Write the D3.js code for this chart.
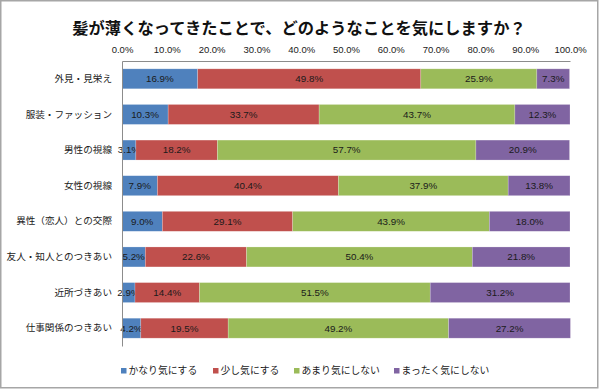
<!DOCTYPE html>
<html>
<head>
<meta charset="utf-8">
<script src="https://cdn.jsdelivr.net/npm/d3@7"></script>
<style>
  html, body { margin: 0; padding: 0; background: #fff; }
  svg { display: block; }
</style>
</head>
<body>
<div id="chart"></div>
<script>
// categories, top to bottom
const categories = [
  '外見・見栄え',
  '服装・ファッション',
  '男性の視線',
  '女性の視線',
  '異性（恋人）との交際',
  '友人・知人とのつきあい',
  '近所づきあい',
  '仕事関係のつきあい'
];
const seriesNames = ['かなり気にする', '少し気にする', 'あまり気にしない', 'まったく気にしない'];
const kanari   = [16.9, 10.3, 3.1, 7.9, 9.0, 5.2, 2.9, 4.2];
const sukoshi  = [49.8, 33.7, 18.2, 40.4, 29.1, 22.6, 14.4, 19.5];
const amari    = [25.9, 43.7, 57.7, 37.9, 43.9, 50.4, 51.5, 49.2];
const mattaku  = [7.3, 12.3, 20.9, 13.8, 18.0, 21.8, 31.2, 27.2];
const xTicks = [0, 10, 20, 30, 40, 50, 60, 70, 80, 90, 100];

const colors = ['#4f81bd', '#c0504d', '#9bbb59', '#8064a2'];
const title = '髪が薄くなってきたことで、どのようなことを気にしますか？';

const W = 600, H = 390;
const margin = { top: 61, left: 122, right: 30, bottom: 44 };
const jp = '"Noto Sans CJK JP", "Noto Sans", sans-serif';
const num = '"Liberation Sans", Arial, sans-serif';

const table = categories.map((c, i) => ({
  cat: c,
  [seriesNames[0]]: kanari[i],
  [seriesNames[1]]: sukoshi[i],
  [seriesNames[2]]: amari[i],
  [seriesNames[3]]: mattaku[i]
}));

const stack = d3.stack().keys(seriesNames)(table);

const svg = d3.select('#chart').append('svg')
  .attr('width', W)
  .attr('height', H);

// outer frame
svg.append('rect')
  .attr('x', 0.75).attr('y', 0.75)
  .attr('width', W - 3).attr('height', H - 3)
  .attr('fill', '#fff')
  .attr('stroke', '#a6a6a6')
  .attr('stroke-width', 1.5);

svg.append('text')
  .attr('x', 299)
  .attr('y', 34)
  .attr('text-anchor', 'middle')
  .style('font-family', jp)
  .style('font-size', '16.3px')
  .style('font-weight', 700)
  .style('fill', '#111')
  .text(title);

const x = d3.scaleLinear()
  .domain([0, 100])
  .range([margin.left, W - margin.right]);

const y = d3.scaleBand()
  .domain(categories)
  .range([margin.top, H - margin.bottom])
  .paddingInner(0.44)
  .paddingOuter(0.22);

const bars = svg.append('g').classed('bars', true);

bars.selectAll('.series')
  .data(stack)
  .enter()
  .append('g')
  .classed('series', true)
  .attr('fill', (d, i) => colors[i])
  .selectAll('rect')
  .data(d => d)
  .enter()
  .append('rect')
  .attr('x', d => x(d[0]))
  .attr('y', d => y(d.data.cat))
  .attr('width', d => x(d[1]) - x(d[0]))
  .attr('height', y.bandwidth())
  .attr('stroke', '#ffffff')
  .attr('stroke-opacity', 0.35)
  .attr('stroke-width', 0.6);

// value labels
bars.selectAll('.series')
  .selectAll('text')
  .data(d => d)
  .enter()
  .append('text')
  .attr('x', d => (x(d[0]) + x(d[1])) / 2)
  .attr('y', d => y(d.data.cat) + y.bandwidth() / 2)
  .attr('dy', '0.35em')
  .attr('text-anchor', 'middle')
  .style('font-family', num)
  .style('font-size', '9.8px')
  .style('fill', '#1a1a1a')
  .text(d => (d[1] - d[0]).toFixed(1) + '%');

// top axis
const xAxis = d3.axisTop(x)
  .tickValues(xTicks)
  .tickSize(0)
  .tickPadding(8)
  .tickFormat(d => d.toFixed(1) + '%');

const gx = svg.append('g')
  .classed('x axis', true)
  .attr('transform', `translate(0,${margin.top})`)
  .call(xAxis);
gx.select('.domain').attr('stroke', '#8c8c8c');
gx.selectAll('text')
  .style('font-family', num)
  .style('font-size', '9.5px')
  .style('fill', '#1a1a1a');

// left axis
const yAxis = d3.axisLeft(y)
  .tickSize(0)
  .tickSizeOuter(0)
  .tickPadding(10);

const gy = svg.append('g')
  .classed('y axis', true)
  .attr('transform', `translate(${margin.left},0)`)
  .call(yAxis);
gy.select('.domain').attr('stroke', '#8c8c8c');
gy.selectAll('text')
  .style('font-family', jp)
  .style('font-size', '9.6px')
  .style('fill', '#1a1a1a');

// legend
const legendX = [121, 213, 294, 394];
const legend = svg.append('g').classed('legend', true)
  .selectAll('g')
  .data(seriesNames)
  .enter()
  .append('g')
  .attr('transform', (d, i) => `translate(${legendX[i]},368)`);
legend.append('rect')
  .attr('width', 5.5)
  .attr('height', 5.5)
  .attr('fill', (d, i) => colors[i]);
legend.append('text')
  .attr('x', 7.5)
  .attr('y', 3)
  .attr('dy', '0.35em')
  .style('font-family', jp)
  .style('font-size', '9.8px')
  .style('fill', '#1a1a1a')
  .text(d => d);
</script>
</body>
</html>
